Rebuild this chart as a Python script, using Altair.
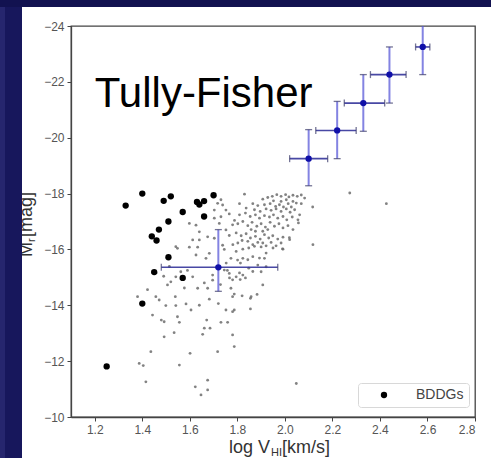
import altair as alt
import pandas as pd

FONT = "Liberation Sans"

# Field galaxies (small grey points): log V_HI [km/s] and M_r [mag]
field_logv = [
    # dense band
    1.830, 1.907, 1.928, 1.947, 1.966, 1.984, 2.003, 2.017, 2.034, 2.052, 2.069, 2.083, 2.034, 2.006, 1.984, 1.952,
    1.865, 1.886, 1.914, 1.938, 1.961, 1.977, 1.994, 2.014, 2.027, 2.048, 2.069, 1.872, 1.896, 1.921, 1.942, 1.963,
    1.984, 2.006, 2.022, 2.041, 1.837, 1.809,
    1.809, 1.834, 1.854, 1.876, 1.893, 1.914, 1.935, 1.952, 1.970, 1.992, 2.008, 2.031, 2.055, 2.062,
    1.802, 1.823, 1.844, 1.862, 1.882, 1.900, 1.918, 1.938, 1.956, 1.975, 1.992, 2.013, 2.034, 1.858, 1.876, 1.907, 1.928,
    1.795, 1.816, 1.837, 1.855, 1.876, 1.896, 1.914, 1.932, 1.949, 1.970, 1.992, 2.020, 1.844, 1.907, 1.942,
    1.781, 1.802, 1.820, 1.865, 1.886, 1.921, 1.963, 1.984,
    # middle and left
    1.548, 1.598, 1.633, 1.626, 1.640, 1.675, 1.682, 1.752, 1.745, 1.773, 1.823, 1.865, 1.886, 1.914, 1.921, 1.900,
    1.766, 1.795, 1.780, 1.562, 1.541, 1.520, 1.506, 1.612, 1.633, 1.675, 1.696, 1.773, 1.787, 1.858, 1.907, 1.471,
    1.640, 1.584,
    1.717, 1.703, 1.738, 1.752, 1.731, 1.724, 1.598, 1.626, 1.640, 1.612, 1.541,
    1.514, 1.458, 1.490, 1.590, 1.661, 1.753, 1.813, 1.848, 1.865, 1.758, 1.809, 1.844, 1.893, 1.921, 1.795, 1.823,
    1.848, 1.872, 1.900, 1.950, 1.992, 1.703, 1.731, 1.766, 1.780, 1.766, 1.788, 1.703, 1.738,
    1.668, 1.745, 1.823, 1.801, 1.696, 1.990,
    # right side
    2.427, 2.118, 2.117, 2.273, 2.057, 2.019,
    # faint end
    1.380, 1.457, 1.539, 1.577, 1.682, 1.499, 1.541, 1.605, 1.443, 1.480, 1.492, 1.548, 1.556, 1.671, 1.731, 1.759,
    1.752, 1.787, 1.492, 1.534, 1.654, 1.661, 1.685, 1.780, 1.787, 1.717, 1.436, 1.601, 1.387, 1.404, 1.556, 1.415,
    1.675, 1.623, 1.675, 1.647, 2.048,
    1.780, 1.820, 1.855, 1.883, 1.780, 1.855, 1.422, 1.720, 1.729, 1.812, 1.834, 1.767,
]
field_mag = [
    -17.98, -17.80, -17.86, -17.90, -17.96, -17.90, -17.96, -17.88, -17.94, -17.90, -17.95, -17.84, -17.72, -17.78, -17.72, -17.74,
    -17.64, -17.57, -17.60, -17.64, -17.54, -17.60, -17.52, -17.64, -17.52, -17.66, -17.64, -17.42, -17.36, -17.45, -17.40, -17.45,
    -17.36, -17.45, -17.33, -17.42, -17.48, -17.64,
    -17.24, -17.30, -17.18, -17.24, -17.12, -17.21, -17.16, -17.24, -17.12, -17.18, -17.06, -17.16, -17.06, -17.24,
    -16.92, -17.00, -16.85, -16.97, -16.83, -16.92, -16.80, -16.97, -16.83, -16.92, -16.77, -16.85, -16.71, -16.71, -16.65, -16.65, -16.71,
    -16.59, -16.49, -16.56, -16.41, -16.47, -16.37, -16.53, -16.41, -16.49, -16.37, -16.44, -16.35, -16.29, -16.23, -16.25,
    -16.17, -16.23, -16.32, -16.17, -16.25, -16.13, -16.13, -16.23,
    -16.04, -16.08, -16.08, -15.80, -16.34, -16.45, -15.86, -16.70, -16.00, -15.68, -15.68, -15.74, -15.44, -15.68, -15.38, -15.20,
    -15.14, -15.02, -14.91, -15.20, -15.02, -14.84, -14.73, -15.02, -14.61, -14.61, -15.08, -14.61, -14.40, -14.31, -14.73, -14.19,
    -14.00, -14.05,
    -17.65, -17.41, -17.59, -17.41, -17.17, -16.93, -16.93, -16.87, -16.63, -16.34, -16.10,
    -15.39, -15.16, -15.04, -15.25, -14.80, -15.51, -15.51, -15.33, -15.21, -15.25, -15.16, -15.63, -15.69, -15.87, -15.93, -16.01,
    -16.05, -16.11, -16.09, -16.05, -16.01, -17.12, -17.78, -16.50, -16.88, -17.27, -17.04, -16.40, -16.15,
    -15.68, -15.26, -15.08, -15.62, -14.90, -16.02,
    -17.64, -16.17, -17.52, -18.02, -16.95, -16.42,
    -14.31, -14.31, -14.31, -14.62, -14.22, -13.99, -13.99, -13.83, -13.65, -13.47, -13.41, -13.59, -13.39, -13.47, -13.39, -13.39,
    -13.83, -13.83, -12.87, -13.02, -12.96, -13.18, -13.18, -12.94, -12.52, -12.34, -12.34, -12.28, -11.92, -11.84, -11.86, -11.26,
    -11.32, -11.08, -10.97, -10.79, -11.20,
    -14.31, -14.34, -14.25, -14.39, -13.77, -13.87, -14.56, -14.06, -14.74, -14.92, -14.98, -14.98,
]

# BDDGs (large black points)
bddg_logv = [1.25, 1.33, 1.40, 1.49, 1.52, 1.63, 1.64, 1.66, 1.70, 1.57, 1.66, 1.51,
             1.47, 1.44, 1.46, 1.51, 1.45, 1.57, 1.40]
bddg_mag = [-11.81, -17.57, -18.00, -17.74, -17.90, -17.70, -17.61, -17.73, -17.94, -17.34, -17.18, -17.00,
            -16.71, -16.47, -16.32, -15.72, -15.19, -14.98, -14.06]

# Binned Tully-Fisher relation plus the BDDG mean, with error ranges
bin_logv = [2.10, 2.22, 2.33, 2.44, 2.58, 1.72]
bin_mag = [-19.25, -20.26, -21.24, -22.26, -23.25, -15.36]
bin_logv_lo = [2.02, 2.13, 2.25, 2.36, 2.55, 1.48]
bin_logv_hi = [2.18, 2.30, 2.42, 2.51, 2.61, 1.97]
bin_mag_lo = [-20.29, -21.30, -22.26, -23.25, -24.25, -16.71]
bin_mag_hi = [-18.28, -19.25, -20.23, -21.24, -22.26, -14.50]

x_ticks = [1.2, 1.4, 1.6, 1.8, 2.0, 2.2, 2.4, 2.6, 2.8]
y_ticks = [-24, -22, -20, -18, -16, -14, -12, -10]

W, H = 404, 391
xs = alt.Scale(domain=[1.1, 2.8], nice=False, zero=False)
ys = alt.Scale(domain=[-24, -10], reverse=True, nice=False, zero=False)

x_axis = alt.Axis(values=x_ticks, format=".1f", title=None, grid=False)
y_axis = alt.Axis(values=y_ticks, format="d", title=None, grid=False)

field = pd.DataFrame({"logv": field_logv, "mag": field_mag})
bddg = pd.DataFrame({"logv": bddg_logv, "mag": bddg_mag, "label": "BDDGs"})
bins = pd.DataFrame({
    "logv": bin_logv, "mag": bin_mag,
    "logv_lo": bin_logv_lo, "logv_hi": bin_logv_hi,
    "mag_lo": bin_mag_lo, "mag_hi": bin_mag_hi,
})
# cap positions for the error bars
vcaps = pd.DataFrame({"logv": bin_logv * 2, "mag": bin_mag_lo + bin_mag_hi})
hcaps = pd.DataFrame({"logv": bin_logv_lo + bin_logv_hi, "mag": bin_mag * 2})

field_layer = alt.Chart(field).mark_circle(size=8, color="#6c6c6c", opacity=0.85).encode(
    x=alt.X("logv:Q", scale=xs, axis=x_axis),
    y=alt.Y("mag:Q", scale=ys, axis=y_axis),
)

bddg_layer = alt.Chart(bddg).mark_circle(size=40, opacity=1).encode(
    x=alt.X("logv:Q", scale=xs),
    y=alt.Y("mag:Q", scale=ys),
    color=alt.Color(
        "label:N",
        scale=alt.Scale(domain=["BDDGs"], range=["black"]),
        legend=alt.Legend(
            title=None, orient="none", legendX=287, legendY=357,
            padding=5, symbolOffset=14, labelOffset=25,
            strokeColor="#d8d8d8", fillColor="white", cornerRadius=3,
            labelFontSize=14, labelColor="#444", labelFont=FONT,
            symbolSize=40, symbolType="circle",
        ),
    ),
)

vbar = alt.Chart(bins).mark_rule(color="#5a5ad8", opacity=0.75, strokeWidth=2, clip=True).encode(
    x=alt.X("logv:Q", scale=xs), y=alt.Y("mag_lo:Q", scale=ys), y2="mag_hi:Q"
)
hbar = alt.Chart(bins).mark_rule(color="#34349a", opacity=0.9, strokeWidth=1.6, clip=True).encode(
    x=alt.X("logv_lo:Q", scale=xs), x2="logv_hi:Q", y=alt.Y("mag:Q", scale=ys)
)
vcap_layer = alt.Chart(vcaps).mark_tick(orient="horizontal", size=7, thickness=1.3,
                                        color="#3a3a6a", clip=True).encode(
    x=alt.X("logv:Q", scale=xs), y=alt.Y("mag:Q", scale=ys)
)
hcap_layer = alt.Chart(hcaps).mark_tick(orient="vertical", size=7, thickness=1.3,
                                        color="#3a3a6a", clip=True).encode(
    x=alt.X("logv:Q", scale=xs), y=alt.Y("mag:Q", scale=ys)
)
centres = alt.Chart(bins).mark_circle(size=40, color="#1010a8", opacity=1).encode(
    x=alt.X("logv:Q", scale=xs), y=alt.Y("mag:Q", scale=ys)
)

one = pd.DataFrame({"k": [0]})

tf_label = alt.Chart(pd.DataFrame({"logv": [1.2], "mag": [-21.1], "t": ["Tully-Fisher"]})).mark_text(
    align="left", baseline="alphabetic", fontSize=42, font=FONT, color="black"
).encode(x=alt.X("logv:Q", scale=xs), y=alt.Y("mag:Q", scale=ys), text="t:N")

def label(text, x, y, size, angle=0, color="#333333"):
    return alt.Chart(one).mark_text(
        text=text, align="left", baseline="alphabetic", fontSize=size,
        font=FONT, color=color, angle=angle
    ).encode(x=alt.value(x), y=alt.value(y))

# x-axis title: log V_HI[km/s]
xt1 = alt.Chart(one).mark_text(text="log V", align="right", baseline="alphabetic", fontSize=18,
                               font=FONT, color="#333333").encode(x=alt.value(199), y=alt.value(427))
xt2 = label("HI", 200, 430, 11)
xt3 = label("[km/s]", 211, 427, 18)

# y-axis title: M_r[mag], rotated
yt1 = label("M", -39, 231, 18, angle=270)
yt2 = label("r", -36, 216, 11, angle=270)
yt3 = label("[mag]", -39, 211, 18, angle=270)

# surrounding dark frame
navy = "#17175c"
left_strip = alt.Chart(one).mark_rect(color=navy).encode(
    x=alt.value(-71), x2=alt.value(-49), y=alt.value(-26), y2=alt.value(432))
left_edge = alt.Chart(one).mark_rect(color="#26266e").encode(
    x=alt.value(-71), x2=alt.value(-66), y=alt.value(-19), y2=alt.value(432))
top_strip = alt.Chart(one).mark_rect(color="#121250").encode(
    x=alt.value(-71), x2=alt.value(420), y=alt.value(-26), y2=alt.value(-19))

chart = alt.layer(
    field_layer, bddg_layer, hbar, vbar, hcap_layer, vcap_layer, centres, tf_label,
    xt1, xt2, xt3, yt1, yt2, yt3, left_strip, left_edge, top_strip,
).properties(
    width=W, height=H,
    autosize=alt.AutoSizeParams(type="none"),
    padding={"left": 71, "top": 26, "right": 16, "bottom": 41},
    background="white",
).configure_view(
    stroke="#444444", strokeWidth=1.3
).configure_axis(
    labelFont=FONT, labelFontSize=12, labelColor="#555555",
    tickColor="#444444", tickSize=4, tickWidth=1,
    domainColor="#444444", domainWidth=1.3, labelPadding=3, zindex=1,
)

chart.save("out.html", embed_options={"renderer": "svg", "actions": False})
